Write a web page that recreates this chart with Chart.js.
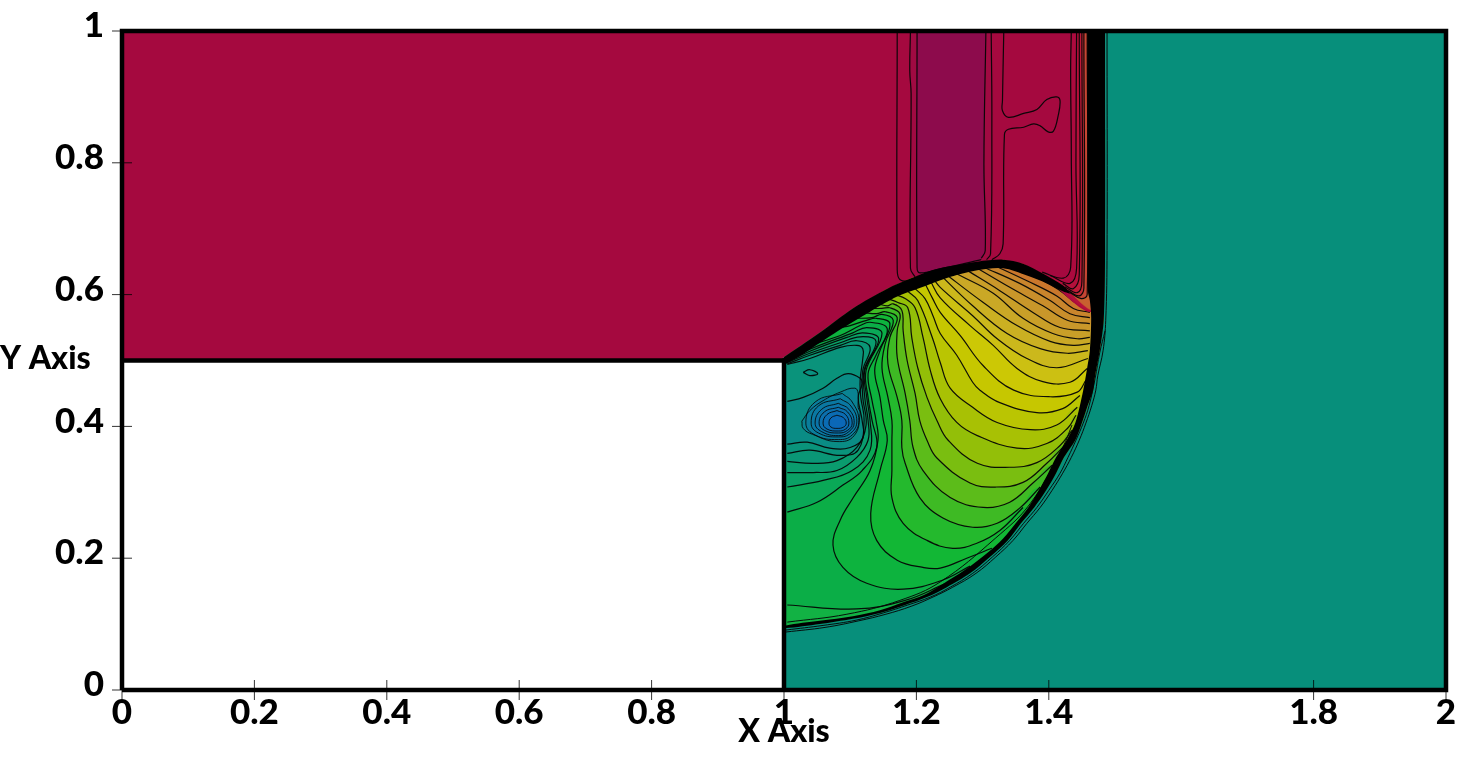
<!DOCTYPE html>
<html>
<head>
<meta charset="utf-8">
<title>Contour</title>
<script src="https://cdn.jsdelivr.net/npm/chart.js@4"></script>
<style>
  html, body { margin: 0; padding: 0; background: #fff; }
  canvas { display: block; }
</style>
</head>
<body>
<canvas id="chart" width="1469" height="762"></canvas>
<script>
// Axis ticks (the reference has nothing at 1.6)
const xTicks = [0, 0.2, 0.4, 0.6, 0.8, 1, 1.2, 1.4, 1.8, 2];
const yTicks = [0, 0.2, 0.4, 0.6, 0.8, 1];
const xTickLabels = ['0', '0.2', '0.4', '0.6', '0.8', '1', '1.2', '1.4', '1.8', '2'];
const yTickLabels = ['0', '0.2', '0.4', '0.6', '0.8', '1'];

// Shock bands in axis units
const bandOuter = [[1.485,1],[1.485,.667],[1.483,.561],[1.477,.515],[1.470,.477],[1.467,.455],[1.459,.432],[1.450,.405],[1.440,.379],[1.423,.353],[1.411,.329],[1.396,.303],[1.378,.277],[1.358,.253],[1.338,.227],[1.311,.202],[1.281,.177],[1.246,.156],[1.216,.141],[1.183,.129],[1.145,.117],[1.104,.108],[1.054,.100],[1.003,.094]];
const bandInner = [[1.003,.098],[1.054,.105],[1.104,.112],[1.145,.121],[1.180,.133],[1.213,.145],[1.240,.161],[1.273,.182],[1.307,.208],[1.331,.230],[1.350,.253],[1.369,.277],[1.385,.303],[1.399,.329],[1.411,.353],[1.427,.379],[1.440,.405],[1.452,.455],[1.458,.489],[1.462,.515],[1.464,.565],[1.462,.591],[1.459,.606],[1.458,1]];
const shockTop = [[.997,.503],[1.054,.542],[1.104,.579],[1.156,.609],[1.190,.624],[1.215,.634],[1.240,.641],[1.292,.650],[1.331,.653],[1.361,.647],[1.391,.632],[1.421,.614]];
const shockTopLower = [[1.432,.602],[1.421,.605],[1.397,.617],[1.367,.629],[1.331,.640],[1.292,.637],[1.245,.625],[1.205,.610],[1.171,.597],[1.130,.574],[1.082,.545],[1.029,.510],[.998,.492]];
const thinOuter = [[1.488,1],[1.488,.667],[1.486,.561],[1.482,.515],[1.474,.477],[1.471,.455],[1.465,.432],[1.456,.405],[1.446,.379],[1.434,.353],[1.421,.329],[1.405,.303],[1.387,.277],[1.367,.253],[1.346,.227],[1.320,.202],[1.290,.177],[1.255,.156],[1.225,.141],[1.192,.127],[1.154,.115],[1.113,.105],[1.062,.095],[1.003,.088]];
const thinMiddle = [[1.485,.545],[1.477,.512],[1.470,.473],[1.461,.432],[1.452,.405],[1.441,.379],[1.429,.353],[1.417,.329],[1.400,.303],[1.382,.277],[1.362,.253],[1.341,.227],[1.315,.202],[1.285,.177],[1.251,.156],[1.221,.141],[1.187,.129],[1.150,.117],[1.109,.106],[1.059,.098],[1.003,.091]];
const thinInner = [[1.005,.103],[1.095,.115],[1.175,.136],[1.236,.164],[1.319,.230],[1.372,.283],[1.421,.368],[1.435,.402]];

// Contours behind the shock, low to high
const contourG1 = [[1.005,.129],[1.110,.123],[1.183,.136],[1.243,.161]];
const contourG2 = [[1.039,.523],[1.085,.538],[1.115,.553],[1.130,.558],[1.156,.548],[1.139,.508],[1.127,.480],[1.133,.439],[1.139,.409],[1.142,.379],[1.130,.333],[1.104,.291],[1.085,.258],[1.074,.220],[1.089,.186],[1.125,.162],[1.180,.153],[1.240,.167],[1.281,.188]];
const contourG3 = [[1.085,.550],[1.100,.553],[1.125,.561],[1.140,.564],[1.160,.556],[1.145,.515],[1.137,.485],[1.145,.444],[1.150,.409],[1.156,.379],[1.145,.333],[1.131,.268],[1.140,.227],[1.171,.197],[1.210,.186],[1.236,.185],[1.276,.200],[1.314,.215]];
const contourG4 = [[1.104,.564],[1.133,.565],[1.148,.570],[1.165,.561],[1.153,.526],[1.148,.489],[1.157,.444],[1.163,.409],[1.163,.379],[1.163,.333],[1.163,.292],[1.180,.253],[1.216,.227],[1.255,.215],[1.292,.223],[1.326,.242],[1.361,.277]];
const contourG5 = [[1.119,.573],[1.140,.571],[1.153,.574],[1.171,.565],[1.160,.535],[1.157,.495],[1.171,.444],[1.178,.409],[1.178,.368],[1.183,.344],[1.205,.292],[1.240,.261],[1.285,.247],[1.322,.253],[1.356,.276],[1.387,.308]];
const contourG6 = [[1.130,.579],[1.148,.579],[1.160,.580],[1.175,.571],[1.171,.545],[1.171,.505],[1.183,.450],[1.190,.409],[1.195,.368],[1.210,.333],[1.251,.292],[1.301,.277],[1.341,.285],[1.376,.314],[1.405,.341]];
const contourG7 = [[1.142,.586],[1.156,.583],[1.165,.586],[1.178,.576],[1.180,.545],[1.186,.500],[1.198,.450],[1.205,.409],[1.216,.379],[1.231,.352],[1.281,.314],[1.319,.308],[1.361,.315],[1.397,.344],[1.424,.371]];
const contourG8 = [[1.156,.594],[1.172,.588],[1.187,.580],[1.193,.535],[1.202,.489],[1.216,.444],[1.231,.409],[1.248,.379],[1.292,.344],[1.341,.338],[1.382,.345],[1.417,.371],[1.435,.394]];
const contourG9 = [[1.168,.600],[1.183,.594],[1.198,.580],[1.210,.535],[1.221,.485],[1.236,.442],[1.261,.406],[1.292,.386],[1.352,.367],[1.397,.374],[1.429,.398],[1.441,.417]];
const contourA1 = [[1.187,.605],[1.202,.591],[1.224,.535],[1.236,.497],[1.251,.458],[1.285,.429],[1.322,.406],[1.372,.395],[1.412,.402],[1.443,.429]];
const contourA2 = [[1.198,.609],[1.213,.594],[1.225,.568],[1.236,.541],[1.261,.508],[1.285,.467],[1.296,.455],[1.326,.436],[1.382,.421],[1.421,.427],[1.447,.447]];
const contourA3 = [[1.213,.617],[1.224,.595],[1.236,.573],[1.266,.538],[1.301,.492],[1.347,.455],[1.402,.445],[1.443,.452],[1.456,.470]];
const contourA4 = [[1.221,.621],[1.236,.595],[1.281,.553],[1.316,.523],[1.352,.488],[1.391,.468],[1.432,.467],[1.458,.488]];
const contourA5 = [[1.224,.626],[1.236,.611],[1.285,.568],[1.322,.533],[1.367,.503],[1.412,.489],[1.459,.503]];
const contourA6 = [[1.233,.633],[1.285,.583],[1.337,.541],[1.387,.518],[1.428,.511],[1.459,.515]];
const contourA7 = [[1.243,.633],[1.251,.626],[1.301,.588],[1.352,.553],[1.402,.529],[1.437,.523],[1.462,.526]];
const contourA8 = [[1.258,.633],[1.266,.629],[1.316,.602],[1.361,.564],[1.406,.541],[1.443,.533],[1.462,.535]];
const contourA9 = [[1.278,.636],[1.326,.606],[1.376,.573],[1.417,.550],[1.462,.545]];
const contourA10 = [[1.292,.640],[1.341,.611],[1.391,.583],[1.428,.561],[1.462,.556]];
const contourA11 = [[1.301,.642],[1.356,.617],[1.402,.591],[1.432,.571],[1.462,.565]];
const contourA12 = [[1.316,.645],[1.367,.621],[1.412,.598],[1.437,.579],[1.462,.573]];
const contourA13 = [[1.331,.645],[1.382,.626],[1.417,.606],[1.443,.586],[1.461,.580]];
const contourA14 = [[1.345,.645],[1.391,.626],[1.421,.611],[1.447,.594],[1.459,.588]];
const contourA15 = [[1.364,.639],[1.402,.621],[1.429,.609],[1.450,.598],[1.461,.594]];
const risingContours = [contourG2, contourG3, contourG4, contourG5, contourG6, contourG7, contourG8, contourG9, contourA1, contourA2, contourA3, contourA4, contourA5, contourA6, contourA7, contourA8, contourA9, contourA10, contourA11, contourA12, contourA13, contourA14, contourA15];
const risingColors = ['#0DB33E', '#12B735', '#24B92D', '#3EBA24', '#5CBC1A', '#7ABE10', '#93BF08', '#A8C104', '#BAC502', '#C6C700', '#CCC805', '#CCC012', '#CBB81C', '#CBB022', '#CAA826', '#C99F28', '#C9972A', '#C98E2B', '#C9852C', '#CA772C', '#CB632E', '#CC4E30', '#CC3A33'];

// Contours that leave the wall, go up the slip line and come back to the corner
const contourW1 = [[1.005,.270],[1.050,.285],[1.089,.311],[1.118,.333],[1.140,.368],[1.133,.409],[1.127,.444],[1.124,.485],[1.148,.541],[1.125,.550],[1.104,.542],[1.039,.517],[1.005,.500]];
const contourW2 = [[1.005,.308],[1.059,.318],[1.103,.333],[1.130,.364],[1.130,.409],[1.125,.444],[1.122,.485],[1.143,.533],[1.119,.542],[1.095,.535],[1.039,.514],[1.005,.498]];
const contourW3 = [[1.005,.330],[1.044,.330],[1.080,.333],[1.110,.353],[1.127,.379],[1.127,.409],[1.122,.444],[1.121,.485],[1.139,.529],[1.115,.536],[1.085,.527],[1.039,.511],[1.005,.497]];
const contourW4 = [[1.005,.347],[1.044,.344],[1.080,.348],[1.110,.368],[1.124,.402],[1.119,.444],[1.119,.485],[1.130,.520],[1.110,.530],[1.085,.523],[1.039,.508],[1.005,.495]];
const contourW5 = [[1.005,.359],[1.039,.364],[1.085,.356],[1.112,.364],[1.121,.409],[1.116,.444],[1.115,.470],[1.119,.503],[1.119,.518],[1.110,.523],[1.085,.520],[1.039,.503],[1.005,.494]];
const contourW6 = [[1.005,.373],[1.035,.376],[1.069,.367],[1.100,.368],[1.119,.382],[1.118,.409],[1.112,.444],[1.118,.465],[1.115,.473],[1.097,.480],[1.080,.473],[1.059,.458],[1.029,.444],[1.005,.438]];
const wallContours = [contourW1, contourW2, contourW3, contourW4, contourW5, contourW6];
const wallColors = ['#0AA857', '#0AA165', '#0A9C6E', '#0A9776', '#0A937B', '#0A8C85'];

// Closed rings round the vortex, outer to inner
const ring7 = [[1.027,.408],[1.039,.424],[1.059,.439],[1.085,.452],[1.107,.458],[1.112,.450],[1.112,.429],[1.115,.420],[1.106,.386],[1.080,.377],[1.043,.388],[1.029,.397],[1.027,.408]];
const ring6 = [[1.088,.450],[1.103,.437],[1.113,.409],[1.103,.387],[1.082,.380],[1.047,.387],[1.033,.405],[1.047,.437],[1.088,.450]];
const ring5 = [[1.085,.442],[1.101,.431],[1.110,.408],[1.101,.390],[1.082,.384],[1.052,.390],[1.041,.405],[1.052,.431],[1.085,.442]];
const ring4 = [[1.082,.435],[1.098,.426],[1.106,.406],[1.098,.392],[1.082,.386],[1.057,.392],[1.047,.405],[1.057,.426],[1.082,.435]];
const ring3 = [[1.082,.429],[1.096,.422],[1.103,.405],[1.096,.394],[1.082,.390],[1.061,.394],[1.053,.405],[1.061,.422],[1.082,.429]];
const ring2 = [[1.080,.424],[1.093,.418],[1.098,.405],[1.093,.396],[1.082,.393],[1.065,.396],[1.059,.405],[1.065,.418],[1.080,.424]];
const ring1 = [[1.080,.417],[1.090,.413],[1.094,.405],[1.090,.399],[1.080,.397],[1.071,.399],[1.068,.405],[1.071,.413],[1.080,.417]];
const rings = [ring7, ring6, ring5, ring4, ring3, ring2, ring1];
const ringColors = ['#0A8392', '#0A7D9B', '#0A78A2', '#0B74A8', '#0B70AE', '#0B6CB3', '#0B68B8'];
const smallOval = [[1.029,.482],[1.039,.486],[1.051,.480],[1.039,.477],[1.029,.482]];

// Vertical contours in the upper state
const verticalA = [[1.171,1],[1.171,.64],[1.175,.623],[1.193,.620]];
const verticalB = [[1.191,1],[1.190,.939],[1.192,.905],[1.191,.640],[1.198,.627]];
const verticalC = [[1.201,1],[1.201,.641],[1.205,.633],[1.236,.639],[1.298,.653]];
const verticalD = [[1.305,1],[1.302,.8],[1.304,.667],[1.298,.655]];
const verticalE = [[1.313,1],[1.314,.864],[1.312,.662],[1.306,.653]];
const verticalF = [[1.332,1],[1.330,.894],[1.330,.879],[1.339,.869],[1.362,.875],[1.382,.881],[1.397,.896],[1.412,.900],[1.417,.894],[1.414,.871],[1.407,.848],[1.399,.847],[1.387,.856],[1.377,.859],[1.362,.854],[1.339,.851],[1.333,.843],[1.331,.677],[1.326,.662],[1.314,.653]];
const verticalG = [[1.434,1],[1.433,.939],[1.434,.813],[1.433,.641],[1.422,.625],[1.390,.634]];
const verticalH = [[1.442,1],[1.441,.8],[1.442,.64],[1.432,.617],[1.402,.629]];
const verticalI = [[1.446,1],[1.446,.63],[1.437,.609],[1.421,.617]];
const verticalJ = [[1.450,1],[1.450,.62],[1.443,.603],[1.424,.612]];
const verticalK = [[1.453,1],[1.453,.61],[1.446,.598],[1.429,.606]];
const verticalL = [[1.458,1],[1.458,.60],[1.449,.594],[1.432,.603]];
const verticalLines = [verticalA, verticalB, verticalC, verticalD, verticalE, verticalF, verticalG, verticalH, verticalI, verticalJ, verticalK, verticalL];
const stripes = [verticalG, verticalH, verticalI, verticalJ, verticalK, verticalL];
const stripeColors = ['#AC0A3E', '#B5103B', '#BF1A38', '#C42C36', '#C64533', '#C86030'];

const CRIMSON = '#A5093F';
const DARK_BAND = '#8D0B4C';
const MID_BAND = '#A00A42';
const TEAL = '#078F7B';
const LINE = 'rgba(5,5,5,0.95)';
const FONT = 'Lato, "Open Sans", sans-serif';
const SMOOTH = 0.4;

const datasets = [];

// Filled polygon, painted over whatever was added before it
const addFill = (points, color, tension = SMOOTH) => {
  datasets.push({ data: points, showLine: true, pointRadius: 0, borderWidth: 0, tension, fill: 'shape', backgroundColor: color });
};

// Plain stroked line
const addLine = (points, width = 1.2, tension = SMOOTH, color = LINE, clip = undefined) => {
  datasets.push({ data: points, showLine: true, pointRadius: 0, borderWidth: width, borderColor: color, tension, fill: false, clip, borderCapStyle: 'butt', borderJoinStyle: 'miter' });
};

// Tick mark as a short line marker centred on the axis
const addTicks = (points, rotation) => {
  datasets.push({ data: points, showLine: false, pointStyle: 'line', pointRadius: 10, pointRotation: rotation, pointBorderWidth: 1, pointBorderColor: 'rgba(0,0,0,0.8)', clip: false });
};

const closeRight = (line) => {
  const start = line[0];
  const end = line[line.length - 1];
  return [...line, [1.6, end[1]], [1.6, 0.8], [start[0], 0.8]];
};
const closeLeft = (line) => {
  const start = line[0];
  const end = line[line.length - 1];
  return [...line, [0.98, end[1]], [0.98, start[1]]];
};

// Field behind the shock
addFill([[1, 0], [1.55, 0], [1.55, 0.7], [1, 0.7]], '#0BAE47', 0);
addFill([...contourG1, [1.3, 0.05], [1, 0.05]], '#12B244');
risingContours.forEach((line, i) => addFill(closeRight(line), risingColors[i]));
wallContours.forEach((line, i) => addFill(closeLeft(line), wallColors[i]));
addFill(smallOval, '#0A9080');
rings.forEach((line, i) => addFill(line, ringColors[i], 0.45));
[contourG1, ...risingContours, ...wallContours, smallOval].forEach((line) => addLine(line));
rings.forEach((line) => addLine(line, 0.9, 0.45));

// Uniform states on top of the field
addFill([...bandOuter, [1, 0.094], [1, 0], [2, 0], [2, 1]], TEAL, 0);
addFill([[0, 1], [0, 0.5], [1, 0.5], ...shockTop, [1.44, 0.6], [1.46, 0.595], [1.46, 1]], CRIMSON, 0);
addFill([[0, 0], [1, 0], [1, 0.5], [0, 0.5]], '#ffffff', 0);

// Bands and stripes in the upper state
addFill([...verticalB, ...[...verticalE].reverse()], MID_BAND);
addFill([...verticalC, ...[...verticalD].reverse()], DARK_BAND);
stripes.forEach((line, i) => addFill([...line, [1.47, 0.58], [1.47, 1]], stripeColors[i]));
verticalLines.forEach((line) => addLine(line));

// Thin lines round the shock, then the shock itself
[thinOuter, thinMiddle, thinInner].forEach((line) => addLine(line, 1));
addFill([...bandOuter, ...bandInner], '#000000', 0.3);
addFill([...shockTop, ...shockTopLower], '#000000', 0.3);

// Step wall, frame and tick marks
addLine([[0, 0.5], [1, 0.5], [1, 0]], 4.5, 0, '#000000', false);
addLine([[0, 0], [2, 0], [2, 1], [0, 1], [0, 0]], 4.5, 0, '#000000', false);
addTicks(xTicks.map((x) => [x, 0]), 90);
addTicks(yTicks.map((y) => [0, y]), 0);

// Chart.js paints lower order last, so the last dataset added ends on top
datasets.forEach((d, i) => { d.order = datasets.length - i; });

// The y title sits level in the reference, which the scale title can't do
const yAxisTitle = {
  id: 'yAxisTitle',
  afterDraw(chart) {
    const { ctx, scales } = chart;
    ctx.save();
    ctx.font = `900 32px ${FONT}`;
    ctx.fillStyle = '#000';
    ctx.textAlign = 'left';
    ctx.textBaseline = 'middle';
    ctx.fillText('Y Axis', 0, scales.y.getPixelForValue(0.5) - 2);
    ctx.restore();
  }
};

new Chart(document.getElementById('chart'), {
  type: 'scatter',
  data: { datasets },
  plugins: [yAxisTitle],
  options: {
    responsive: false,
    animation: false,
    layout: { padding: { top: 30, right: 23, left: 0, bottom: 0 } },
    plugins: { legend: { display: false }, tooltip: { enabled: false } },
    scales: {
      x: {
        type: 'linear',
        min: 0,
        max: 2,
        afterFit(scale) { scale.height = 72; },
        afterBuildTicks(scale) { scale.ticks = xTicks.map((value) => ({ value })); },
        grid: { display: false },
        border: { display: false },
        ticks: {
          autoSkip: false,
          maxRotation: 0,
          padding: -6,
          color: '#000',
          font: { family: FONT, size: 35, weight: '900' },
          callback: (value, index) => xTickLabels[index]
        },
        title: {
          display: true,
          text: 'X Axis',
          color: '#000',
          font: { family: FONT, size: 32, weight: '900' },
          padding: { top: 0, bottom: 11 }
        }
      },
      y: {
        type: 'linear',
        min: 0,
        max: 1,
        afterFit(scale) { scale.width = 122; },
        afterBuildTicks(scale) { scale.ticks = yTicks.map((value) => ({ value })); },
        grid: { display: false },
        border: { display: false },
        ticks: {
          autoSkip: false,
          padding: 10,
          labelOffset: -5,
          color: '#000',
          font: { family: FONT, size: 35, weight: '900' },
          callback: (value, index) => yTickLabels[index]
        }
      }
    }
  }
});
</script>
</body>
</html>
